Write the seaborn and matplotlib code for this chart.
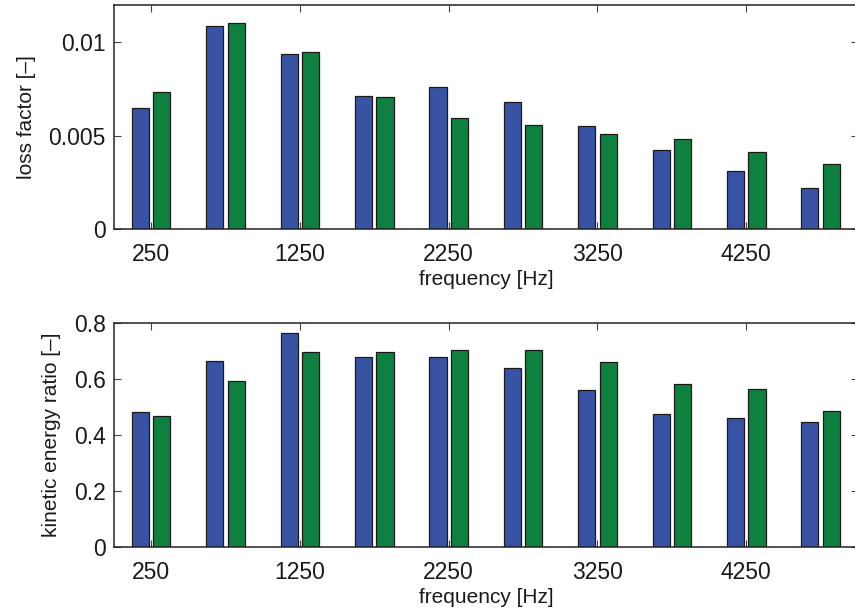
import numpy as np
import pandas as pd
import matplotlib
matplotlib.use("Agg")
import matplotlib.pyplot as plt
import seaborn as sns

# values
freq = [250, 750, 1250, 1750, 2250, 2750, 3250, 3750, 4250, 4750]
loss_a = [0.00648, 0.01088, 0.00938, 0.00711, 0.00761, 0.00681, 0.00549, 0.00425, 0.00309, 0.00220]
loss_b = [0.00734, 0.01104, 0.00949, 0.00707, 0.00595, 0.00559, 0.00511, 0.00482, 0.00413, 0.00350]
ke_a = [0.484, 0.665, 0.767, 0.681, 0.680, 0.639, 0.563, 0.477, 0.461, 0.448]
ke_b = [0.469, 0.595, 0.696, 0.696, 0.706, 0.703, 0.662, 0.582, 0.564, 0.485]
xticks = [250, 1250, 2250, 3250, 4250]
loss_yticks = [0, 0.005, 0.01]
loss_yticklabels = ["0", "0.005", "0.01"]
ke_yticks = [0, 0.2, 0.4, 0.6, 0.8]
ke_yticklabels = ["0", "0.2", "0.4", "0.6", "0.8"]

BLUE = "#3953a4"
GREEN = "#0f8040"

sns.set_style("ticks")
plt.rcParams['font.family'] = ['Liberation Sans', 'DejaVu Sans']
plt.rcParams['axes.linewidth'] = 1.1
plt.rcParams['axes.edgecolor'] = '#222222'


def make_df(a, b):
    return pd.DataFrame({
        "freq": freq * 2,
        "value": list(a) + list(b),
        "series": ["a"] * len(a) + ["b"] * len(b),
    })


fig = plt.figure(figsize=(8.55, 6.15), dpi=100)
ax1 = fig.add_axes([0.1333, 0.628, 0.870, 0.3637])
ax2 = fig.add_axes([0.1333, 0.1106, 0.870, 0.3637])

panels = [
    (ax1, make_df(loss_a, loss_b), (0, 0.012), loss_yticks, loss_yticklabels, "loss factor [\u2013]"),
    (ax2, make_df(ke_a, ke_b), (0, 0.8), ke_yticks, ke_yticklabels, "kinetic energy ratio [\u2013]"),
]

for ax, df, ylim, yt, ytl, ylab in panels:
    sns.barplot(data=df, x="freq", y="value", hue="series", native_scale=True,
                palette=[BLUE, GREEN], width=0.576, gap=0.2, errorbar=None,
                edgecolor="#1a1a1a", linewidth=0.9, saturation=1, legend=False, ax=ax)
    ax.set_xlim(0, 5000)
    ax.set_ylim(*ylim)
    ax.set_xticks(xticks)
    ax.set_xticklabels([str(t) for t in xticks])
    ax.set_yticks(yt)
    ax.set_yticklabels(ytl)
    for s in ax.spines.values():
        s.set_visible(True)
    # the right frame edge sits just outside the picture in the reference
    ax.spines['right'].set_visible(False)
    ax.tick_params(axis="both", direction="in", top=True, right=True, length=5,
                   width=0.8, color="#444444", labelsize=16.5, labelcolor="#1a1a1a")
    ax.tick_params(axis="x", pad=10)
    ax.tick_params(axis="y", pad=6)
    ax.set_xlabel("frequency [Hz]", fontsize=15, color="#1a1a1a", labelpad=3)
    ax.set_ylabel(ylab, fontsize=15, color="#1a1a1a", labelpad=9)

fig.savefig("out.png", dpi=100)
